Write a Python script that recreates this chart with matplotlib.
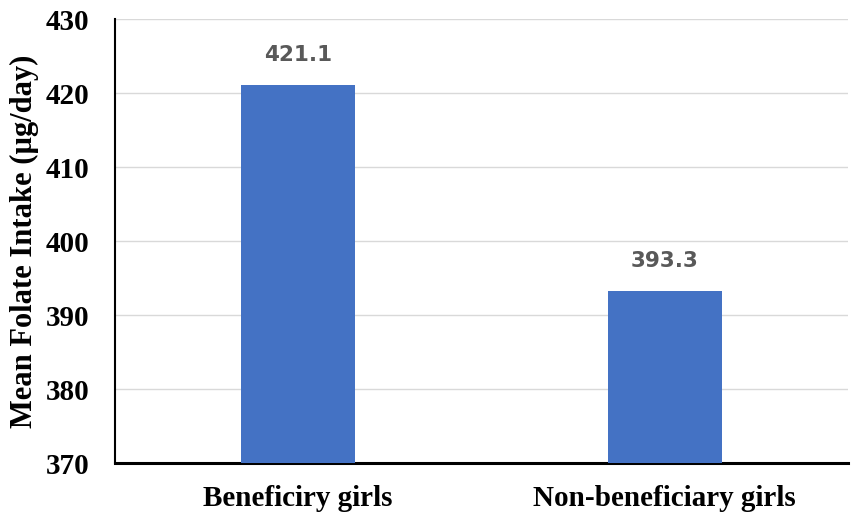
import matplotlib.pyplot as plt

### data ###
groups = ["Beneficiry girls", "Non-beneficiary girls"]
folate = [421.1, 393.3]
yticks = [370, 380, 390, 400, 410, 420, 430]
##############

fig = plt.figure(figsize=(8.51, 5.22), dpi=100)
ax = fig.add_axes([0.1351, 0.113, 0.8614, 0.8506])

x = range(len(groups))
bars = ax.bar(x, folate, width=0.31, color="#4472C4", zorder=3)

for xi, v in zip(x, folate):
    ax.annotate(f"{v:.1f}", (xi, v), xytext=(0, 14), textcoords="offset points",
                ha="center", va="bottom", fontsize=15.5, fontweight="bold",
                color="#595959", family="DejaVu Sans")

ax.set_xlim(-0.5, len(groups) - 0.5)
ax.set_ylim(370, 430)
ax.set_yticks(yticks)
ax.set_xticks(list(x))
ax.set_xticklabels(groups)

for lab in ax.get_xticklabels() + ax.get_yticklabels():
    lab.set_fontfamily("Liberation Serif")
    lab.set_fontweight("bold")
    lab.set_fontsize(21)

ax.set_ylabel("Mean Folate Intake (µg/day)", family="Liberation Serif",
              weight="bold", size=22, labelpad=5)

ax.tick_params(axis="both", length=0)
ax.tick_params(axis="y", pad=18.5)
ax.tick_params(axis="x", pad=16)
ax.yaxis.grid(True, color="#d9d9d9", lw=1, zorder=0)

for s in ["top", "right"]:
    ax.spines[s].set_visible(False)
ax.spines["left"].set_linewidth(1.5)
ax.spines["bottom"].set_linewidth(2.2)

fig.savefig("out.png", dpi=100)
